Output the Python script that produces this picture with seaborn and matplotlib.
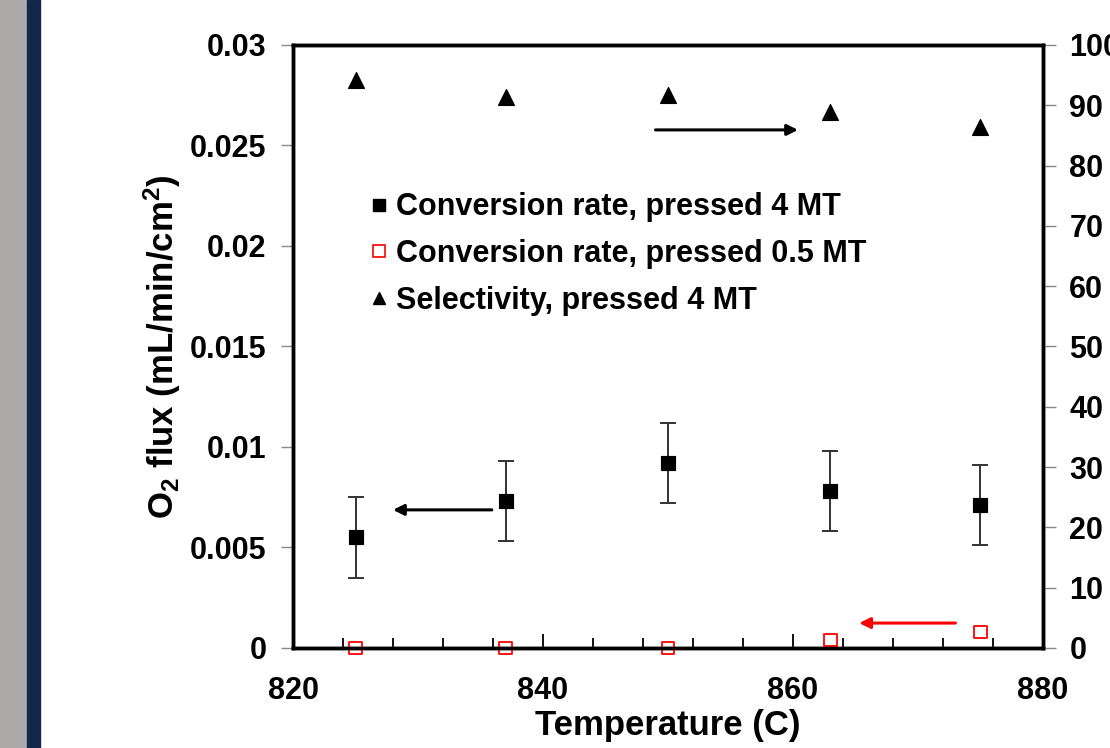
import numpy as np
import pandas as pd
import matplotlib
matplotlib.use('Agg')
import matplotlib.pyplot as plt
from matplotlib.patches import Rectangle
from matplotlib.ticker import MultipleLocator
from matplotlib.lines import Line2D
import seaborn as sns

# data
temperature = [825, 837, 850, 863, 875]
conv_4mt = [0.0055, 0.0073, 0.0092, 0.0078, 0.0071]
conv_4mt_err = [0.0020, 0.0020, 0.0020, 0.0020, 0.0020]
conv_05mt = [0.0000, 0.0000, 0.0000, 0.0004, 0.0008]
select_4mt = [94.2, 91.4, 91.7, 88.9, 86.4]

labels = ['Conversion rate, pressed 4 MT',
          'Conversion rate, pressed 0.5 MT',
          'Selectivity, pressed 4 MT']
ytick_labels = ['0', '0.005', '0.01', '0.015', '0.02', '0.025', '0.03']

sns.set_style('white')
plt.rcParams['font.family'] = ['Liberation Sans', 'DejaVu Sans']
plt.rcParams['font.weight'] = 'bold'
plt.rcParams['axes.labelweight'] = 'bold'
plt.rcParams['text.color'] = 'black'
plt.rcParams['axes.labelcolor'] = 'black'
plt.rcParams['mathtext.fontset'] = 'custom'
plt.rcParams['mathtext.rm'] = 'Liberation Sans:bold'
plt.rcParams['mathtext.bf'] = 'Liberation Sans:bold'
plt.rcParams['mathtext.default'] = 'bf'

df = pd.DataFrame({'T': temperature, 'c4': conv_4mt, 'err': conv_4mt_err,
                   'c05': conv_05mt, 'sel': select_4mt})

fig = plt.figure(figsize=(11.1, 7.48), dpi=100)
# slide edge decoration
fig.patches.append(Rectangle((0, 0), 27 / 1110, 1, transform=fig.transFigure,
                             color='#aeaaaa', zorder=0))
fig.patches.append(Rectangle((27 / 1110, 0), 13 / 1110, 1, transform=fig.transFigure,
                             color='#12284b', zorder=0))

ax = fig.add_axes([0.264, 0.1337, 0.6756, 0.8063])
ax2 = ax.twinx()

ax.errorbar(df['T'], df['c4'], yerr=df['err'], fmt='none', ecolor='#333333',
            elinewidth=1.4, capsize=6, capthick=1.4, zorder=3)
sns.scatterplot(data=df, x='T', y='c4', marker='s', color='black', s=110,
                edgecolor='black', ax=ax, zorder=4, legend=False)
sns.scatterplot(data=df, x='T', y='c05', marker='s', s=85, facecolor='none',
                edgecolor='red', linewidth=1.3, ax=ax, zorder=4, legend=False,
                clip_on=False)
sns.scatterplot(data=df, x='T', y='sel', marker='^', color='black', s=130,
                edgecolor='black', ax=ax2, zorder=4, legend=False)

ax.set_xlim(820, 880)
ax.set_ylim(0, 0.03)
ax2.set_ylim(0, 100)

ax.xaxis.set_major_locator(MultipleLocator(20))
ax.xaxis.set_minor_locator(MultipleLocator(4))
ax.set_yticks(np.arange(0, 0.0301, 0.005))
ax.set_yticklabels(ytick_labels)
ax2.yaxis.set_major_locator(MultipleLocator(10))

ax.tick_params(axis='x', which='both', bottom=True, direction='in', width=1.3,
               labelsize=22, pad=20, colors='black')
ax.tick_params(axis='x', which='major', length=10)
ax.tick_params(axis='x', which='minor', length=7)
ax.tick_params(axis='y', direction='out', length=9, width=1.0, color='#888888',
               labelsize=22, pad=10, left=True, labelcolor='black')
ax2.tick_params(axis='y', direction='out', length=9, width=1.0, color='#888888',
                labelsize=22, pad=10, right=True, labelcolor='black')

for a in (ax, ax2):
    for sp in a.spines.values():
        sp.set_linewidth(2.5)
        sp.set_color('black')

ax.set_xlabel('Temperature (C)', fontsize=25, labelpad=2)
ax.set_ylabel(r'O$_2$ flux (mL/min/cm$^2$)', fontsize=25, labelpad=5)

# direction arrows
arrows = [((835.9, 0.00687), (828.0, 0.00687), 'black'),
          ((849.0, 0.02577), (860.4, 0.02577), 'black'),
          ((873.0, 0.00124), (865.3, 0.00124), 'red')]
for start, end, col in arrows:
    ax.annotate('', xy=end, xytext=start,
                arrowprops=dict(arrowstyle='-|>', color=col, lw=2.2,
                                mutation_scale=16, shrinkA=0, shrinkB=0))

handles = [Line2D([], [], ls='none', marker='s', color='black', markersize=8),
           Line2D([], [], ls='none', marker='s', mfc='none', mec='red',
                  markersize=8, mew=1.2),
           Line2D([], [], ls='none', marker='^', color='black', markersize=9)]
ax.legend(handles, labels, loc='upper left', bbox_to_anchor=(0.07, 0.786),
          frameon=False, fontsize=22, handletextpad=0.05, labelspacing=0.55,
          handlelength=1.0, borderaxespad=0.2)

fig.savefig('out.png', dpi=100)
